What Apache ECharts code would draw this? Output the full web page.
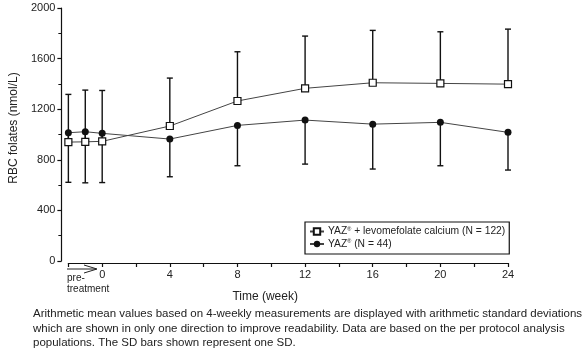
<!DOCTYPE html>
<html>
<head>
<meta charset="utf-8">
<script src="https://cdn.jsdelivr.net/npm/echarts@6/dist/echarts.min.js"></script>
<style>
  html, body { margin: 0; padding: 0; background: #fff; }
  #chart { width: 586px; height: 351px; }
</style>
</head>
<body>
<div id="chart"></div>
<script>
// weeks (-2 and -1 are the pre-treatment visits)
const weeks = [-2, -1, 0, 4, 8, 12, 16, 20, 24];
// YAZ + levomefolate calcium: mean and mean + 1 SD
const comboMean = [940, 942, 946, 1067, 1265, 1365, 1409, 1404, 1398];
const comboUpper = [1317, 1351, 1348, 1446, 1654, 1778, 1823, 1812, 1833];
// YAZ alone: mean and mean - 1 SD
const yazMean = [1014, 1022, 1009, 964, 1072, 1114, 1082, 1096, 1017];
const yazLower = [622, 618, 620, 666, 753, 766, 727, 753, 719];

const yTicks = [0, 400, 800, 1200, 1600, 2000];
const xLabels = [0, 4, 8, 12, 16, 20, 24];

const comboName = 'YAZ{sup|®} + levomefolate calcium (N = 122)';
const yazName = 'YAZ{sup|®} (N = 44)';

const font = 'Liberation Sans, Arial, sans-serif';
const chart = echarts.init(document.getElementById('chart'));

// vertical SD bar with a cap at the far end
function errorBar(params, api) {
    const from = api.coord([api.value(0), api.value(1)]);
    const to = api.coord([api.value(0), api.value(2)]);
    const cap = 3;
    return {
        type: 'group',
        children: [
            { type: 'line', shape: { x1: from[0], y1: from[1], x2: to[0], y2: to[1] },
              style: { stroke: '#111', lineWidth: 1.4 } },
            { type: 'line', shape: { x1: to[0] - cap, y1: to[1], x2: to[0] + cap, y2: to[1] },
              style: { stroke: '#111', lineWidth: 1.4 } }
        ]
    };
}

const option = {
    animation: false,
    textStyle: { fontFamily: font },
    grid: { left: 65, right: 78, top: 8, bottom: 90 },
    xAxis: {
        type: 'value',
        min: -2,
        max: 24,
        interval: 2,
        offset: 2,
        name: 'Time (week)',
        nameLocation: 'middle',
        nameGap: 28,
        nameTextStyle: { fontSize: 12, color: '#222', padding: [0, 46, 0, 0] },
        axisLine: { onZero: false, lineStyle: { color: '#111', width: 1.2 } },
        axisTick: { length: 4, lineStyle: { color: '#111', width: 1.2 } },
        axisLabel: {
            fontSize: 11, color: '#222', margin: 6,
            formatter: v => xLabels.indexOf(v) >= 0 ? String(v) : ''
        },
        splitLine: { show: false }
    },
    yAxis: {
        type: 'value',
        min: 0,
        max: 2000,
        interval: 400,
        offset: 7,
        name: 'RBC folates (nmol/L)',
        nameLocation: 'middle',
        nameRotate: 90,
        nameGap: 38,
        nameTextStyle: { fontSize: 12, color: '#222', padding: [0, 0, 0, 13] },
        axisLine: { show: true, onZero: false, lineStyle: { color: '#111', width: 1.2 } },
        axisTick: { show: true, length: 4, lineStyle: { color: '#111', width: 1.2 } },
        minorTick: { show: true, splitNumber: 2, length: 3, lineStyle: { color: '#111' } },
        axisLabel: {
            fontSize: 11, color: '#222', margin: 6,
            formatter: v => yTicks.indexOf(v) >= 0 ? String(v) : ''
        },
        splitLine: { show: false }
    },
    legend: {
        orient: 'vertical',
        left: 305,
        top: 222,
        padding: [4, 4, 5, 4],
        itemGap: 2,
        itemWidth: 14,
        itemHeight: 8,
        borderColor: '#111',
        borderWidth: 1.2,
        data: [comboName, yazName],
        textStyle: {
            fontSize: 10.3, color: '#222', fontFamily: font, padding: [0, 0, 0, -1],
            rich: { sup: { fontSize: 5.5, verticalAlign: 'top', padding: [0, 0, 5, 0] } }
        }
    },
    series: [
        {
            type: 'custom',
            renderItem: errorBar,
            data: weeks.map((w, i) => [w, comboMean[i], comboUpper[i]]),
            encode: { x: 0, y: [1, 2] },
            z: 1,
            silent: true
        },
        {
            type: 'custom',
            renderItem: errorBar,
            data: weeks.map((w, i) => [w, yazMean[i], yazLower[i]]),
            encode: { x: 0, y: [1, 2] },
            z: 1,
            silent: true
        },
        {
            name: comboName,
            type: 'line',
            data: weeks.map((w, i) => [w, comboMean[i]]),
            symbol: 'rect',
            symbolSize: 7,
            lineStyle: { color: '#444', width: 1 },
            itemStyle: { color: '#fff', borderColor: '#111', borderWidth: 1.2 },
            z: 3
        },
        {
            name: yazName,
            type: 'line',
            data: weeks.map((w, i) => [w, yazMean[i]]),
            symbol: 'circle',
            symbolSize: 7,
            lineStyle: { color: '#444', width: 1 },
            itemStyle: { color: '#111', borderColor: '#111', borderWidth: 0 },
            z: 3
        }
    ],
    graphic: [
        {
            type: 'line',
            shape: { x1: 67, y1: 269, x2: 96, y2: 269 },
            style: { stroke: '#222', lineWidth: 1 }
        },
        {
            type: 'polyline',
            shape: { points: [[84, 265], [97, 269], [84, 273]] },
            style: { stroke: '#222', lineWidth: 1, fill: null }
        },
        {
            type: 'text',
            left: 67,
            top: 273,
            style: { text: 'pre-\ntreatment', font: '10px ' + font, fill: '#222', lineHeight: 11 }
        },
        {
            type: 'text',
            left: 33,
            top: 307,
            style: {
                text: 'Arithmetic mean values based on 4-weekly measurements are displayed with arithmetic standard deviations\n' +
                      'which are shown in only one direction to improve readability. Data are based on the per protocol analysis\n' +
                      'populations. The SD bars shown represent one SD.',
                font: '11.5px ' + font,
                fill: '#222',
                lineHeight: 14.5
            }
        }
    ]
};

chart.setOption(option);
</script>
</body>
</html>
